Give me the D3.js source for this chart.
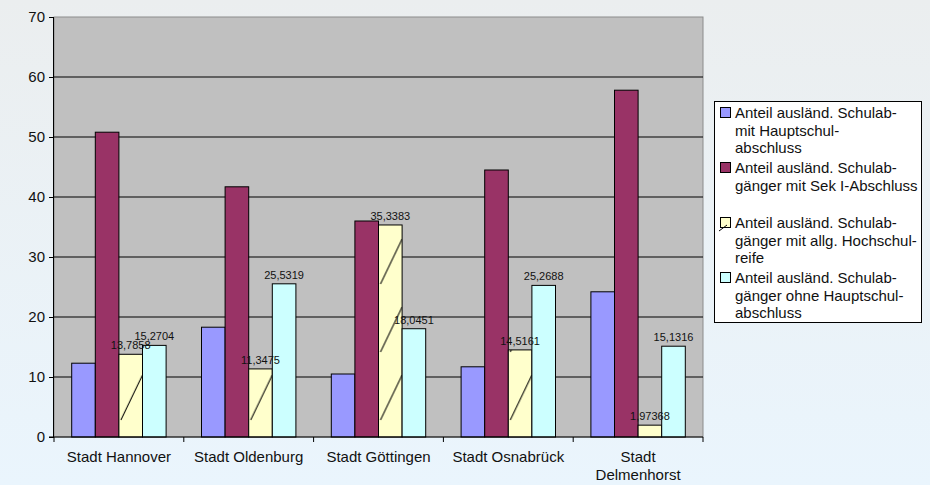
<!DOCTYPE html>
<html>
<head>
<meta charset="utf-8">
<script src="https://cdn.jsdelivr.net/npm/d3@7"></script>
<style>
  body { margin: 0; }
  svg { display: block; font-family: Arial, 'Liberation Sans', sans-serif; }
</style>
</head>
<body>
<div id="chart"></div>
<script>
const cities = ['Stadt Hannover', 'Stadt Oldenburg', 'Stadt Göttingen', 'Stadt Osnabrück', 'Stadt Delmenhorst']
const hauptschul = [12.3, 18.3, 10.5, 11.7, 24.2]
const sekI = [50.8, 41.7, 36.0, 44.5, 57.8]
const hochschul = [13.7858, 11.3475, 35.3383, 14.5161, 1.97368]
const ohne = [15.2704, 25.5319, 18.0451, 25.2688, 15.1316]
const seriesNames = [
  ['Anteil ausländ. Schulab-', 'mit Hauptschul-', 'abschluss'],
  ['Anteil ausländ. Schulab-', 'gänger mit Sek I-Abschluss'],
  ['Anteil ausländ. Schulab-', 'gänger mit allg. Hochschul-', 'reife'],
  ['Anteil ausländ. Schulab-', 'gänger ohne Hauptschul-', 'abschluss']
]
const yTicks = [0, 10, 20, 30, 40, 50, 60, 70]

const series = [hauptschul, sekI, hochschul, ohne]
const colors = ['#9999ff', '#993366', 'url(#hatch)', '#ccffff']
const showLabel = [false, false, true, true]

const W = 930, H = 485
const plot = { left: 54, top: 17, right: 703, bottom: 437 }

const svg = d3.select('#chart').append('svg').attr('width', W).attr('height', H)
const defs = svg.append('defs')
const grad = defs.append('linearGradient').attr('id', 'bg').attr('x1', 0).attr('y1', 0).attr('x2', 0).attr('y2', 1)
grad.append('stop').attr('offset', '0%').attr('stop-color', '#ebeeef')
grad.append('stop').attr('offset', '100%').attr('stop-color', '#eaf5fd')

const x = d3.scaleBand().domain(cities).range([plot.left, plot.right])
const bw = x.bandwidth() / 5.5
const y = d3.scaleLinear().domain([0, 70]).range([plot.bottom, plot.top])

// sparse diagonal hatch for the yellow series, one tile per category
const tileH = 68
const hx = 2.75 * bw
const pat = defs.append('pattern').attr('id', 'hatch').attr('patternUnits', 'userSpaceOnUse')
  .attr('width', x.step()).attr('height', tileH).attr('x', plot.left).attr('y', 370)
pat.append('rect').attr('width', x.step()).attr('height', tileH).attr('fill', '#ffffcc')
pat.append('line').attr('x1', hx + 2).attr('y1', 50).attr('x2', hx + bw).attr('y2', 5)
  .attr('stroke', '#000').attr('stroke-width', 1)

svg.append('rect').attr('width', W).attr('height', H).attr('fill', 'url(#bg)')

// plot area
svg.append('rect')
  .attr('x', plot.left).attr('y', plot.top)
  .attr('width', plot.right - plot.left).attr('height', plot.bottom - plot.top)
  .attr('fill', '#c0c0c0').attr('stroke', '#8c8c8c').attr('stroke-width', 1)

// gridlines
svg.append('g').selectAll('line').data(yTicks.filter(d => d > 0 && d < 70)).join('line')
  .attr('x1', plot.left).attr('x2', plot.right)
  .attr('y1', d => y(d)).attr('y2', d => y(d))
  .attr('stroke', '#000').attr('stroke-width', 1)

// bars
series.forEach((vals, s) => {
  svg.append('g').selectAll('rect').data(vals).join('rect')
    .attr('x', (d, i) => x(cities[i]) + 0.75 * bw + s * bw)
    .attr('y', d => y(d))
    .attr('width', bw)
    .attr('height', d => y(0) - y(d))
    .attr('fill', colors[s])
    .attr('stroke', '#000').attr('stroke-width', 1)
})

// data labels on top of all bars
series.forEach((vals, s) => {
  if (!showLabel[s]) return
  svg.append('g').selectAll('text').data(vals).join('text')
    .attr('x', (d, i) => x(cities[i]) + 0.75 * bw + s * bw + bw / 2)
    .attr('y', d => y(d) - 5)
    .attr('text-anchor', 'middle')
    .attr('font-size', 11)
    .attr('fill', '#111')
    .text(d => String(d).replace('.', ','))
})

// y axis
const yAxis = svg.append('g').attr('transform', `translate(${plot.left},0)`)
  .call(d3.axisLeft(y).tickValues(yTicks).tickSize(5).tickFormat(d3.format('d')))
yAxis.select('.domain').attr('stroke', '#000').attr('d', `M-0.5,${plot.top}V${plot.bottom}`)
yAxis.selectAll('text').attr('font-size', 15).attr('fill', '#111').attr('font-family', 'Arial, Liberation Sans, sans-serif').attr('dx', -1)

// x axis
const xAxis = svg.append('g').attr('transform', `translate(0,${plot.bottom})`)
xAxis.append('line').attr('x1', plot.left - 5).attr('x2', plot.right).attr('stroke', '#000')
xAxis.selectAll('.tk').data(d3.range(cities.length + 1)).join('line')
  .attr('x1', i => plot.left + i * x.step()).attr('x2', i => plot.left + i * x.step())
  .attr('y1', 0).attr('y2', 5).attr('stroke', '#000')
cities.forEach(c => {
  const lines = c === 'Stadt Delmenhorst' ? ['Stadt', 'Delmenhorst'] : [c]
  const t = xAxis.append('text').attr('text-anchor', 'middle').attr('font-size', 15).attr('fill', '#111')
  lines.forEach((l, k) => t.append('tspan').attr('x', x(c) + x.bandwidth() / 2).attr('y', 25 + k * 18).text(l))
})

// legend
const lg = svg.append('g')
lg.append('rect').attr('x', 714.5).attr('y', 101.5).attr('width', 207).attr('height', 221)
  .attr('fill', '#fff').attr('stroke', '#000')
const entryY = [113, 168, 223, 278]
seriesNames.forEach((lines, s) => {
  lg.append('rect').attr('x', 720.5).attr('y', entryY[s] - 5.5).attr('width', 10).attr('height', 10)
    .attr('fill', s === 2 ? '#ffffcc' : colors[s]).attr('stroke', '#000')
  if (s === 2) {
    lg.append('line').attr('x1', 719).attr('y1', entryY[s] + 8).attr('x2', 727).attr('y2', entryY[s] + 2).attr('stroke', '#000')
  }
  const t = lg.append('text').attr('font-size', 15).attr('fill', '#111')
  lines.forEach((l, k) => t.append('tspan').attr('x', 735).attr('y', entryY[s] + 5 + k * 17.5).text(l))
})
</script>
</body>
</html>
